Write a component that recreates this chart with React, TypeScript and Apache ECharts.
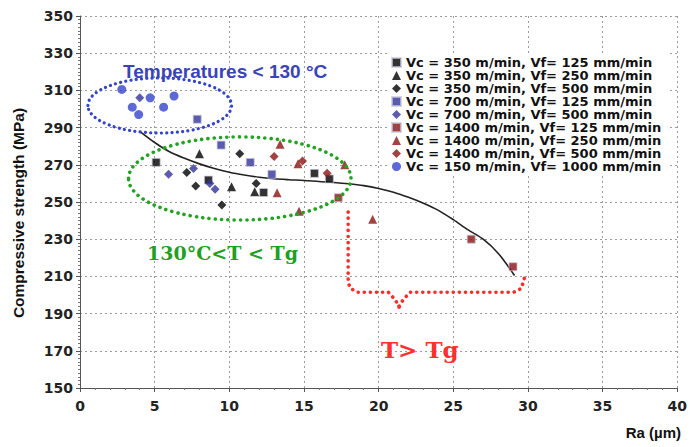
import React, { useEffect, useRef } from "react";
import * as echarts from "echarts";

const legendNames = [
  "Vc = 350 m/min, Vf= 125 mm/min",
  "Vc = 350 m/min, Vf= 250 mm/min",
  "Vc = 350 m/min, Vf= 500 mm/min",
  "Vc = 700 m/min, Vf= 125 mm/min",
  "Vc = 700 m/min, Vf= 500 mm/min",
  "Vc = 1400 m/min, Vf= 125 mm/min",
  "Vc = 1400 m/min, Vf= 250 mm/min",
  "Vc = 1400 m/min, Vf= 500 mm/min",
  "Vc = 150 m/min, Vf= 1000 mm/min",
];

const s350_125 = [[5.1, 271.3], [8.6, 261.8], [12.3, 255.1], [15.7, 265.4], [16.7, 262.4]];
const s350_250 = [[8.0, 276], [10.15, 258.2], [11.7, 255.5]];
const s350_500 = [[10.7, 276], [7.15, 265.8], [7.75, 258.6], [9.5, 248.4], [11.8, 260]];
const s700_125 = [[7.85, 294.5], [9.45, 280.6], [11.4, 271.3], [12.85, 264.9]];
const s700_500 = [[4.0, 306], [5.93, 264.9], [7.6, 268], [8.7, 259.9], [9.05, 256.9]];
const s1400_125 = [[17.3, 252.3], [26.2, 230], [29.0, 215.2]];
const s1400_250 = [[13.4, 281], [14.6, 270.5], [17.73, 270], [13.2, 255], [14.67, 245], [19.6, 240.7]];
const s1400_500 = [[13.0, 274.4], [14.9, 272], [16.55, 265.4]];
const s150_1000 = [[2.8, 310.5], [4.7, 306], [6.3, 307], [3.5, 301], [5.6, 301], [3.93, 297]];

const trend = [
  [4, 288], [5, 282], [6, 277], [7, 273.5], [8, 270.5], [9, 268], [10, 266], [11, 264.5],
  [12, 263.3], [13, 262.5], [14, 262], [15, 261.6], [16, 261], [17, 260.5], [18, 259.8],
  [19, 258.8], [20, 257.3], [21, 255.3], [22, 252.5], [23, 249.3], [24, 245.5], [25, 240.5],
  [26, 235], [27, 230], [28, 222.5], [29.1, 210.5],
];

const xTicks = { min: 0, max: 40, interval: 5 };
const yTicks = { min: 150, max: 350, interval: 20 };

// annotation shapes in data units
const blueEllipse = { cx: 5.34, cy: 301.9, rx: 4.81, ry: 14.8 };
const greenEllipse = { cx: 10.7, cy: 262.65, rx: 7.45, ry: 22.35 };
const bracketLeft = [[17.96, 244.6], [17.96, 206.5], [18.15, 203.3], [18.6, 201.5], [20.65, 201.5], [21.1, 197.5], [21.37, 194], [21.37, 190.8]];
const bracketRight = [[21.37, 194], [21.65, 197.5], [22.1, 201.5], [29.05, 201.5], [29.55, 203.5], [29.85, 211.3]];

const BLACK = "#000000";
const INDIGO = "#33339a";
const DARKRED = "#8b1414";
const BLUE = "#3344cc";

const SANS = "'DejaVu Sans', Verdana, sans-serif";

export default function App() {
  const ref = useRef<HTMLDivElement>(null);
  useEffect(() => {
    const chart = echarts.init(ref.current!, null, { renderer: "svg" });
    const sc = (name: string, data: number[][], symbol: string, color: string, size: number, square = false) => ({
      name,
      type: "scatter",
      data,
      symbol,
      symbolSize: size,
      itemStyle: square ? { color, borderColor: "rgba(200,200,220,0.9)", borderWidth: 1 } : { color },
      z: 3,
    });
    const option: any = {
      animation: false,
      backgroundColor: "#ffffff",
      grid: { left: 80, right: 11, top: 16, bottom: 59 },
      legend: {
        orient: "vertical",
        left: 388,
        top: 53,
        padding: [3, 6, 3, 3],
        itemGap: 0,
        itemWidth: 9,
        itemHeight: 9,
        backgroundColor: "#ffffff",
        data: legendNames,
        textStyle: { fontSize: 13, fontWeight: "bold", fontFamily: SANS, color: "#111", lineHeight: 12.8 },
      },
      xAxis: {
        type: "value",
        min: xTicks.min,
        max: xTicks.max,
        interval: xTicks.interval,
        axisLine: { lineStyle: { color: "#555", width: 1 } },
        axisTick: { show: true, length: 4, lineStyle: { color: "#555" } },
        minorTick: { show: true, splitNumber: 5, length: 2, lineStyle: { color: "#777" } },
        axisLabel: { margin: 11, fontSize: 14, fontWeight: "bold", fontFamily: SANS, color: "#222" },
        splitLine: { show: true, lineStyle: { color: "#9a9a9a", type: [2, 3], width: 1 } },
      },
      yAxis: {
        type: "value",
        min: yTicks.min,
        max: yTicks.max,
        interval: yTicks.interval,
        axisLine: { show: true, lineStyle: { color: "#555", width: 1 } },
        axisTick: { show: true, length: 4, lineStyle: { color: "#555" } },
        minorTick: { show: true, splitNumber: 10, length: 2, lineStyle: { color: "#777" } },
        axisLabel: { margin: 7, fontSize: 14, fontWeight: "bold", fontFamily: SANS, color: "#222" },
        splitLine: { show: true, lineStyle: { color: "#9a9a9a", type: [2, 3], width: 1 } },
      },
      series: [
        {
          name: "trend",
          type: "line",
          data: trend,
          smooth: 0.3,
          showSymbol: false,
          symbol: "none",
          lineStyle: { color: "#222", width: 1.6 },
          z: 2,
        },
        sc(legendNames[0], s350_125, "rect", BLACK, 8, true),
        sc(legendNames[1], s350_250, "triangle", BLACK, 9),
        sc(legendNames[2], s350_500, "diamond", BLACK, 9),
        sc(legendNames[3], s700_125, "rect", INDIGO, 8, true),
        sc(legendNames[4], s700_500, "diamond", INDIGO, 9),
        sc(legendNames[5], s1400_125, "rect", DARKRED, 8, true),
        sc(legendNames[6], s1400_250, "triangle", DARKRED, 9),
        sc(legendNames[7], s1400_500, "diamond", DARKRED, 9),
        sc(legendNames[8], s150_1000, "circle", BLUE, 9),
      ],
    };
    chart.setOption(option);

    const px = (p: number[]) => chart.convertToPixel({ gridIndex: 0 }, p) as number[];
    const ell = (e: { cx: number; cy: number; rx: number; ry: number }) => {
      const c = px([e.cx, e.cy]);
      const a = px([e.cx + e.rx, e.cy]);
      const b = px([e.cx, e.cy + e.ry]);
      return { cx: c[0], cy: c[1], rx: Math.abs(a[0] - c[0]), ry: Math.abs(b[1] - c[1]) };
    };
    const dotStyle = (color: string, w: number, gap: number) => ({
      stroke: color,
      fill: "none",
      lineWidth: w,
      lineDash: [0.1, gap],
      lineCap: "round",
    });
    chart.setOption({
      graphic: [
        { type: "ellipse", shape: ell(blueEllipse), style: dotStyle("#3344cc", 3.2, 5.2), z: 5 },
        { type: "ellipse", shape: ell(greenEllipse), style: dotStyle("#22a322", 3.6, 6.2), z: 5 },
        { type: "polyline", shape: { points: bracketLeft.map(px) }, style: dotStyle("#ff2b2b", 3.6, 6), z: 5 },
        { type: "polyline", shape: { points: bracketRight.map(px) }, style: dotStyle("#ff2b2b", 3.6, 6), z: 5 },
        {
          type: "text", x: 123, y: 71, z: 6,
          style: { text: "Temperatures < 130 °C", fill: "#3a44b8", font: "bold 19px 'Liberation Sans', Arial", textVerticalAlign: "middle" },
        },
        {
          type: "text", x: 147, y: 253, z: 6,
          style: { text: "130°C<T < Tg", fill: "#1fa01f", font: "bold 19px 'DejaVu Serif', serif", textVerticalAlign: "middle" },
        },
        {
          type: "text", x: 381, y: 349, z: 6,
          style: { text: "T> Tg", fill: "#ff3030", font: "bold 23px 'DejaVu Serif', serif", textVerticalAlign: "middle" },
        },
        {
          type: "text", x: 18, y: 213, rotation: Math.PI / 2, z: 6,
          style: { text: "Compressive strength (MPa)", fill: "#111", font: "bold 15.5px 'Liberation Sans', Arial", textAlign: "center", textVerticalAlign: "middle" },
        },
        {
          type: "text", x: 681, y: 432, z: 6,
          style: { text: "Ra (µm)", fill: "#111", font: "bold 15px 'Liberation Sans', Arial", textAlign: "right", textVerticalAlign: "middle" },
        },
      ],
    });
    return () => chart.dispose();
  }, []);
  return <div ref={ref} style={{ position: "fixed", left: 0, top: 0, width: 690, height: 447 }} />;
}
